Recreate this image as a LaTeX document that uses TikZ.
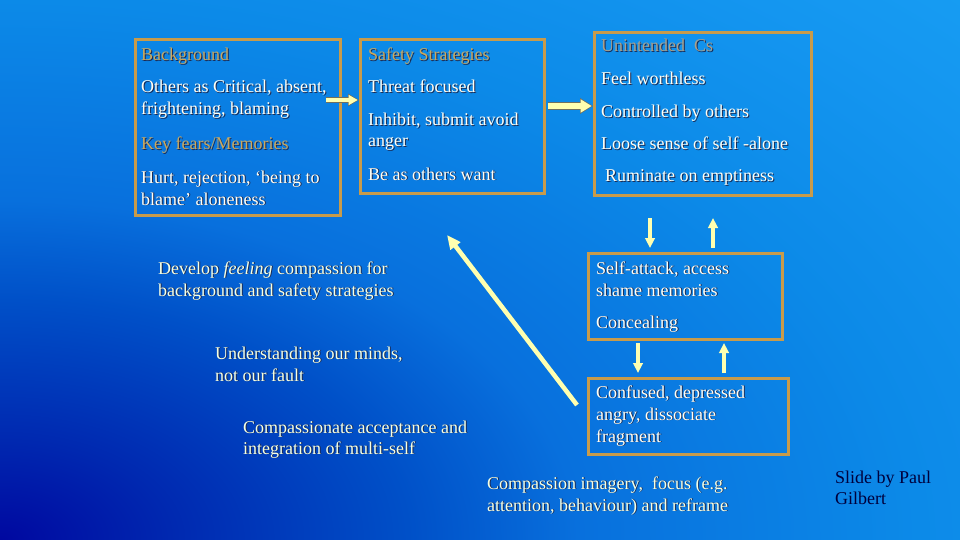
\documentclass[tikz,border=0pt]{standalone}
\usepackage{fontspec}
\setmainfont{Liberation Serif}
\usetikzlibrary{arrows.meta,calc}
\definecolor{c0}{HTML}{0008A0}
\definecolor{c1}{HTML}{0028B0}
\definecolor{c2}{HTML}{0050C8}
\definecolor{c3}{HTML}{0870DD}
\definecolor{c4}{HTML}{0C8AE8}
\definecolor{c5}{HTML}{1496F0}
\definecolor{c6}{HTML}{18A0F4}
\definecolor{boxgold}{HTML}{C89B4B}
\definecolor{headgold}{HTML}{C8A860}
\definecolor{headgrey}{HTML}{A8A08C}
\definecolor{txtwhite}{HTML}{FFFFF5}
\definecolor{txtpale}{HTML}{F4FFE4}
\definecolor{navy}{HTML}{00003C}
\definecolor{shadowc}{HTML}{1A2850}
\definecolor{arrowfill}{HTML}{FFFFB0}
\definecolor{arrowline}{HTML}{707060}
\newcommand{\shd}[1]{\makebox[0pt][l]{\kern0.9pt\raisebox{-0.9pt}{\textcolor{shadowc}{#1}}}#1}
\pgfdeclareradialshading{bgshade}{\pgfpoint{0bp}{0bp}}{color(0bp)=(c0); color(2.5bp)=(c1); color(6bp)=(c2); color(8.5bp)=(c3); color(13.5bp)=(c4); color(17.5bp)=(c5); color(21bp)=(c6); color(50bp)=(c6)}
\tikzset{
  box/.style={draw=boxgold, line width=3pt, inner sep=0pt, anchor=north west},
  txt/.style={inner sep=0pt, anchor=base west, text=txtwhite, font=\fontsize{18}{22}\selectfont},
  ptxt/.style={txt, text=txtpale},
  head/.style={txt, text=headgold},
  headg/.style={txt, text=headgrey},
  slide/.style={txt, text=navy},
  thinarrow/.style={draw=arrowfill, line width=3.5pt, -{Triangle[length=10pt,width=9.5pt]}},
  diagarrow/.style={draw=arrowfill, line width=4.5pt, -{Triangle[length=14pt,width=12pt]}},
}
\begin{document}
\begin{tikzpicture}[x=1pt,y=-1pt]
\useasboundingbox (0,0) rectangle (960,540);
\begin{scope}
\clip (0,0) rectangle (960,540);
\shade[shading=bgshade] (0,540) ellipse [x radius=1700, y radius=1000];
\end{scope}

% boxes
\node[box, minimum width=205pt, minimum height=176pt] (bg) at (134,38) {};
\node[box, minimum width=184pt, minimum height=154pt] (ss) at (359,38) {};
\node[box, minimum width=217pt, minimum height=163pt] (uc) at (593,31) {};
\node[box, minimum width=194pt, minimum height=86pt] (sa) at (587,252) {};
\node[box, minimum width=200pt, minimum height=76pt] (cf) at (587,377) {};

% background box text
\node[head] (t1) at (141,61) {\shd{Background}};
\node[txt] (t2) at (141,93) {\shd{Others as Critical, absent,}};
\node[txt] (t3) at (141,115) {\shd{frightening, blaming}};
\node[head] (t4) at (141,150) {\shd{Key fears/Memories}};
\node[txt] (t5) at (141,183) {\shd{Hurt, rejection, ‘being to}};
\node[txt] (t6) at (141,205) {\shd{blame’ aloneness}};

% safety strategies
\node[head] (t7) at (368,61) {\shd{Safety Strategies}};
\node[txt] (t8) at (368,93) {\shd{Threat focused}};
\node[txt] (t9) at (368,126) {\shd{Inhibit, submit avoid}};
\node[txt] (t10) at (368,147) {\shd{anger}};
\node[txt] (t11) at (368,180) {\shd{Be as others want}};

% unintended consequences
\node[headg] (t12) at (601,52) {\shd{Unintended\ \ Cs}};
\node[txt] (t13) at (601,85) {\shd{Feel worthless}};
\node[txt] (t14) at (601,118) {\shd{Controlled by others}};
\node[txt] (t15) at (601,150) {\shd{Loose sense of self -alone}};
\node[txt] (t16) at (605,182) {\shd{Ruminate on emptiness}};

% self-attack
\node[txt] (t17) at (596,274) {\shd{Self-attack, access}};
\node[txt] (t18) at (596,296) {\shd{shame memories}};
\node[txt] (t19) at (596,328) {\shd{Concealing}};

% confused
\node[txt] (t20) at (596,398) {\shd{Confused, depressed}};
\node[txt] (t21) at (596,420) {\shd{angry, dissociate}};
\node[txt] (t22) at (596,442) {\shd{fragment}};

% free texts
\node[ptxt] (t23) at (158,274) {\shd{Develop \textit{feeling} compassion for}};
\node[ptxt] (t24) at (158,296) {\shd{background and safety strategies}};
\node[ptxt] (t25) at (215,359) {\shd{Understanding our minds,}};
\node[ptxt] (t26) at (215,381) {\shd{not our fault}};
\node[ptxt] (t27) at (243,433) {\shd{Compassionate acceptance and}};
\node[ptxt] (t28) at (243,454) {\shd{integration of multi-self}};
\node[ptxt] (t29) at (487,489) {\shd{Compassion imagery,\ \ focus (e.g.}};
\node[ptxt] (t30) at (487,511) {\shd{attention, behaviour) and reframe}};
\node[slide] (t31) at (835,483) {Slide by Paul};
\node[slide] (t32) at (835,504) {Gilbert};

% block arrows
\coordinate (a1s) at (326,100);
\coordinate (a1t) at (ss.west |- a1s);
\draw[arrowline, line width=6.5pt, -{Triangle[length=11pt,width=12pt]}] (a1s) -- (a1t);
\draw[arrowfill, line width=4.5pt, shorten >=1.2pt, -{Triangle[length=9.2pt,width=9.6pt]}] (a1s) -- (a1t);

\coordinate (a2s) at (548,106);
\coordinate (a2t) at (uc.west |- a2s);
\draw[arrowline, line width=8.5pt, -{Triangle[length=13pt,width=15pt]}] (a2s) -- (a2t);
\draw[arrowfill, line width=6.5pt, shorten >=1.3pt, -{Triangle[length=11pt,width=12.5pt]}] (a2s) -- (a2t);

% thin vertical arrows
\coordinate (v1a) at (650,218);
\coordinate (v1b) at (650,248);
\coordinate (v2a) at (713,248);
\coordinate (v2b) at (713,218);
\coordinate (v3a) at (638,343);
\coordinate (v3b) at (638,373);
\coordinate (v4a) at (724,373);
\coordinate (v4b) at (724,343);
\draw[thinarrow] (v1a) -- (v1b);
\draw[thinarrow] (v2a) -- (v2b);
\draw[thinarrow] (v3a) -- (v3b);
\draw[thinarrow] (v4a) -- (v4b);

% diagonal arrow
\coordinate (d1) at (577,405);
\coordinate (d2) at (447,235);
\draw[diagarrow] (d1) -- (d2);
\end{tikzpicture}
\end{document}
